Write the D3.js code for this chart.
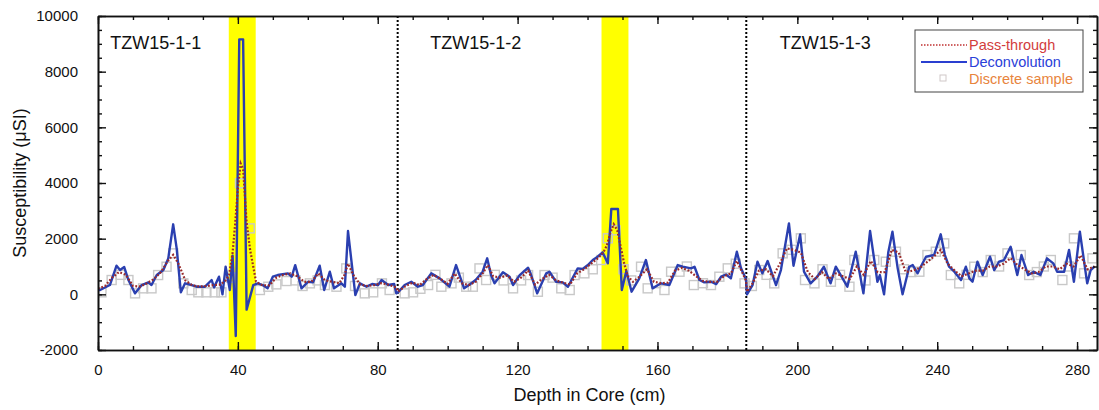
<!DOCTYPE html>
<html>
<head>
<meta charset="utf-8">
<script src="https://cdn.jsdelivr.net/npm/d3@7"></script>
<style>
  body { margin: 0; background: #fff; }
  svg text { font-family: "Liberation Sans", Arial, sans-serif; }
</style>
</head>
<body>
<div id="chart"></div>
<script>
// deconvolution curve (depth cm, susceptibility uSI)
var deconDepth = [0, 0.6, 3.4, 5.3, 6.3, 7.5, 8.7, 10.6, 12.5, 14.4, 15.3, 16.8, 18.7, 20.1, 21.5, 22.5, 23.7, 24.9, 26.8, 28.2,
  30.6, 32.5, 33.2, 34.6, 35.6, 36.5, 37.7, 38.5, 39.4, 40.4, 41.5, 42.5, 44.4, 45.7, 47.1, 48.5, 50, 51.4, 54.3, 55.4,
  56.4, 58.2, 60.1, 61.5, 63.4, 64.7, 66.3, 67.5, 69.6, 70.6, 71.5, 72.5, 73.6, 74.9, 76.8, 78.4, 80.1, 81.1, 83, 84.7,
  85.3, 85.8, 87.7, 89.6, 91.5, 92.9, 95.3, 97.7, 100.5, 102.4, 104.7, 106.1, 108, 110, 111.3, 112.4, 113.4, 115.8, 117.7, 118.7,
  120.6, 123, 123.7, 125.6, 128.2, 129.1, 131, 132.9, 134.4, 137.2, 138.6, 140.1, 141.5, 142.9, 144.3, 145.8, 146.8, 148.7, 149.8, 151.1,
  152.6, 154.8, 156.7, 158.6, 161, 163.4, 165.8, 167.2, 169.6, 170.6, 172, 173.4, 175.3, 176.8, 178.2, 179.6, 181, 182.7, 183.9, 185.3,
  185.6, 187.2, 188.6, 190, 191.5, 193.9, 195.3, 197.6, 198.9, 200.8, 201.9, 203.8, 205.7, 207.6, 209.5, 211, 212.4, 214.3, 216.7, 218.9,
  220.8, 222.9, 223.6, 224.8, 226, 227.2, 228.7, 230.1, 232, 233, 234.4, 235.3, 236.8, 239.1, 241, 242.2, 243.4, 244.9, 246.8, 248.2,
  249.2, 250.1, 251.5, 253, 255.1, 256.3, 257.7, 259.1, 261, 262.9, 264.1, 266, 267.6, 269.5, 271.4, 273.2, 274.3, 276.3, 277.7, 279.1,
  280.8, 282.9, 283.9, 285];
var deconValue = [150, 155, 334, 1028, 873, 981, 514, 35, 334, 430, 334, 693, 873, 1293, 2515, 1653, 72, 395, 334, 274,
  274, 514, 250, 633, 0, 992, 155, 1388, -1500, 9160, 9160, -550, 330, 395, 334, 215, 633, 693, 754, 633,
  1050, 215, 453, 430, 1028, 155, 813, 215, 395, 274, 2274, 1172, -25, 395, 274, 370, 334, 514, 334, 370,
  35, 72, 334, 453, 274, 334, 754, 574, 274, 1053, 215, 334, 514, 813, 1293, 693, 395, 790, 633, 334,
  693, 956, 754, 35, 754, 813, 453, 430, 274, 933, 910, 1053, 1233, 1352, 1508, 1114, 3065, 3065, 155, 837,
  95, 574, 1233, 215, 395, 334, 1053, 993, 933, 992, 514, 430, 453, 370, 633, 713, 574, 1532, 933, 550,
  0, 334, 1172, 754, 1197, 334, 873, 2550, 1028, 2150, 813, 395, 633, 992, 395, 992, 693, 274, 1532, 35,
  2274, 453, 693, 0, 1500, 2250, 933, 0, 992, 1053, 754, 992, 1352, 1412, 2155, 1412, 992, 813, 514, 992,
  574, 453, 1172, 693, 1352, 873, 1172, 1233, 1711, 693, 1412, 693, 813, 693, 1293, 1114, 813, 813, 1592, 453,
  2250, 395, 873, 1000];

// pass-through curve
var passDepth = [0, 2, 4, 6, 8, 10, 12, 14, 16, 18, 20, 21.5, 23, 25, 27, 29, 31, 33, 35, 36.5,
  37.5, 38.5, 39.2, 40, 40.8, 41.5, 42.5, 43.5, 44.4, 45.2, 47, 49, 51, 53, 55, 57, 59, 61, 63, 65,
  67, 69, 70.5, 71.5, 73, 75, 77, 79, 81, 83, 85.3, 85.8, 88, 90, 92, 94, 96, 98, 100, 102,
  104, 106, 108, 110, 111.5, 113, 115, 117, 119, 121, 123, 125, 127, 129, 131, 133, 135, 137, 139, 141,
  143, 144.5, 145.5, 146.5, 147.5, 148.5, 149.5, 150.5, 151.5, 153, 155, 157, 159, 161, 163, 165, 167, 169, 171, 173,
  175, 177, 179, 181, 182.7, 184, 185.3, 185.6, 187, 189, 191, 193, 195, 197, 199, 201, 203, 205, 207, 209,
  211, 213, 215, 217, 219, 221, 223, 225, 227, 229, 231, 233, 235, 237, 239, 241, 243, 245, 247, 249,
  251, 253, 255, 257, 259, 261, 263, 265, 267, 269, 271, 273, 275, 277, 279, 281, 283, 285];
var passValue = [200, 300, 600, 800, 700, 300, 280, 400, 550, 800, 1200, 1420, 1100, 500, 320, 280, 300, 330, 350, 500,
  700, 1500, 2500, 3800, 4700, 4500, 2600, 1600, 1000, 450, 330, 320, 600, 700, 750, 650, 450, 450, 750, 500,
  450, 400, 700, 1100, 700, 350, 300, 330, 400, 350, 250, 100, 300, 420, 330, 550, 700, 550, 380, 750,
  400, 330, 450, 750, 1050, 650, 600, 680, 450, 600, 850, 350, 550, 700, 500, 420, 350, 750, 900, 1100,
  1300, 1500, 1750, 2200, 2520, 2300, 1700, 1100, 650, 450, 650, 900, 450, 400, 420, 850, 950, 850, 650, 480,
  450, 450, 650, 750, 1200, 850, 500, 100, 350, 850, 900, 650, 1100, 1650, 1600, 1500, 800, 550, 800, 550,
  750, 650, 550, 1000, 700, 1200, 800, 800, 1600, 1500, 800, 850, 950, 1150, 1350, 1600, 1100, 850, 650, 750,
  850, 850, 1000, 1000, 1100, 1300, 1050, 900, 750, 800, 1000, 1000, 900, 1100, 1000, 1400, 900, 1000];

// discrete samples
var sampleDepth = [1, 3.9, 6.5, 8.7, 10.6, 12.9, 15.3, 17.2, 19.6, 21.5, 24.4, 26.8, 28.7, 31, 33.4, 35.3, 38, 40.6, 43.4, 46.3,
  48.7, 51, 53.9, 56.5, 58.5, 60.6, 62.8, 64.9, 68.2, 71, 73.5, 76.3, 78.7, 81.2, 83.4, 87.7, 90.1, 92.2, 94.4, 96.5,
  98.2, 101.1, 103.2, 105.3, 107.2, 109.1, 111, 113.5, 116, 118.7, 121, 123, 125.8, 127.7, 130, 132.5, 134.9, 136.3, 139.1, 141.5,
  143.9, 145.8, 148, 150.3, 152.5, 155.3, 157.2, 159.6, 162, 163.9, 166.3, 168.4, 170.4, 173, 175.3, 177.7, 180.1, 182.4, 184.9, 187,
  189.1, 191.2, 193.4, 195.8, 198.3, 201, 202.2, 204.9, 207.2, 209.6, 212.2, 214.9, 216.3, 219.5, 222, 225.3, 228.2, 230.5, 232.6, 234.9,
  237.2, 239.6, 242, 243.9, 246.3, 248.4, 250.6, 253, 255.3, 257.7, 260.1, 263.9, 266.3, 268.5, 270.5, 272.5, 275.8, 277.7, 279.1, 282, 284.4];
var sampleValue = [72, 514, 700, 514, 35, 215, 215, 693, 992, 1472, 395, 155, 72, 72, 72, 72, 600, 3990, 2370, 155,
  274, 358, 478, 500, 300, 394, 500, 334, 274, 932, 300, 35, 72, 394, 155, 35, 72, 200, 334, 700,
  274, 394, 600, 274, 274, 932, 514, 700, 500, 215, 500, 693, 93, 693, 600, 215, 155, 693, 754, 900,
  1233, 2012, 2300, 900, 500, 993, 215, 400, 155, 813, 813, 1000, 334, 400, 334, 633, 933, 1100, 394, 300,
  873, 700, 394, 1472, 1600, 2012, 514, 394, 900, 453, 700, 274, 1233, 500, 1233, 1172, 1532, 900, 800, 813,
  1412, 1532, 1831, 693, 394, 700, 992, 800, 1233, 1000, 1472, 1412, 693, 800, 1000, 1233, 514, 1000, 2012, 754, 1293];

var sectionNames = ["TZW15-1-1", "TZW15-1-2", "TZW15-1-3"];
var sectionLabelDepth = [3.5, 95, 195];
var sectionBreaks = [85.7, 185.4];
var tephraBands = [[37.4, 45.1], [144, 151.7]];

var xTicks = [0, 40, 80, 120, 160, 200, 240, 280];
var yTicks = [-2000, 0, 2000, 4000, 6000, 8000, 10000];

var margin = {top: 16, right: 2, bottom: 60, left: 98},
  width = 1099 - margin.left - margin.right,
  height = 410 - margin.top - margin.bottom;

var x = d3.scaleLinear().domain([0, 285.7]).range([0, width]);
var y = d3.scaleLinear().domain([-2000, 10000]).range([height, 0]);

var svg = d3.select("#chart").append("svg")
  .attr("width", 1099)
  .attr("height", 410);
var chart = svg.append("g")
  .attr("transform", "translate(" + margin.left + "," + margin.top + ")");

chart.append("clipPath").attr("id", "plot-clip")
  .append("rect").attr("width", width).attr("height", height);

var plot = chart.append("g").attr("clip-path", "url(#plot-clip)");

// yellow tephra bands
plot.selectAll(".band")
  .data(tephraBands)
  .enter()
  .append("rect")
  .attr("class", "band")
  .attr("x", function(d) { return x(d[0]); })
  .attr("width", function(d) { return x(d[1]) - x(d[0]); })
  .attr("y", 0)
  .attr("height", height)
  .attr("fill", "#ffff00");

// section breaks
plot.selectAll(".break")
  .data(sectionBreaks)
  .enter()
  .append("line")
  .attr("x1", function(d) { return x(d); })
  .attr("x2", function(d) { return x(d); })
  .attr("y1", 0)
  .attr("y2", height)
  .attr("stroke", "#000")
  .attr("stroke-width", 2)
  .attr("stroke-dasharray", "2,2");

// discrete samples
plot.selectAll(".sample")
  .data(d3.range(sampleDepth.length))
  .enter()
  .append("rect")
  .attr("x", function(i) { return x(sampleDepth[i]) - 4.5; })
  .attr("y", function(i) { return y(sampleValue[i]) - 4.5; })
  .attr("width", 9)
  .attr("height", 9)
  .attr("fill", "none")
  .attr("stroke", "#c8c8c8")
  .attr("stroke-width", 1.4);

var line = d3.line()
  .x(function(d) { return x(d[0]); })
  .y(function(d) { return y(d[1]); });

plot.append("path")
  .datum(d3.zip(deconDepth, deconValue))
  .attr("fill", "none")
  .attr("stroke", "#2a3fb0")
  .attr("stroke-width", 2.4)
  .attr("stroke-linejoin", "round")
  .attr("d", line);

plot.append("path")
  .datum(d3.zip(passDepth, passValue))
  .attr("fill", "none")
  .attr("stroke", "#9a2a2a")
  .attr("stroke-width", 2.2)
  .attr("stroke-dasharray", "1.8,1.8")
  .attr("d", line);

// frame with inward ticks on all sides
function minorTicks(scale, step) {
  var d = scale.domain();
  return d3.range(Math.ceil(d[0] / step) * step, d[1] + 0.001, step);
}
function styleAxis(g) {
  g.select(".domain").attr("stroke-width", 1.6).attr("stroke", "#111");
  g.selectAll(".tick line").attr("stroke-width", 1.4).attr("stroke", "#111");
  g.selectAll("text").attr("font-size", 15).attr("fill", "#111");
}
function plain(d) { return String(d); }

chart.append("g").attr("transform", "translate(0," + height + ")")
  .call(d3.axisBottom(x).tickValues(minorTicks(x, 10)).tickSize(-4).tickFormat("").tickSizeOuter(0))
  .call(styleAxis);
chart.append("g").attr("transform", "translate(0," + height + ")")
  .call(d3.axisBottom(x).tickValues(xTicks).tickSize(-8).tickPadding(14).tickFormat(plain).tickSizeOuter(0))
  .call(styleAxis);
chart.append("g")
  .call(d3.axisTop(x).tickValues(minorTicks(x, 10)).tickSize(-4).tickFormat("").tickSizeOuter(0))
  .call(styleAxis);
chart.append("g")
  .call(d3.axisTop(x).tickValues(xTicks).tickSize(-8).tickFormat("").tickSizeOuter(0))
  .call(styleAxis);

chart.append("g")
  .call(d3.axisLeft(y).tickValues(minorTicks(y, 500)).tickSize(-4).tickFormat("").tickSizeOuter(0))
  .call(styleAxis);
chart.append("g")
  .call(d3.axisLeft(y).tickValues(yTicks).tickSize(-8).tickPadding(20).tickFormat(plain).tickSizeOuter(0))
  .call(styleAxis);
chart.append("g").attr("transform", "translate(" + width + ",0)")
  .call(d3.axisRight(y).tickValues(minorTicks(y, 500)).tickSize(-4).tickFormat("").tickSizeOuter(0))
  .call(styleAxis);
chart.append("g").attr("transform", "translate(" + width + ",0)")
  .call(d3.axisRight(y).tickValues(yTicks).tickSize(-8).tickFormat("").tickSizeOuter(0))
  .call(styleAxis);

// axis titles
svg.append("text")
  .attr("x", margin.left + width / 2 - 8)
  .attr("y", 401)
  .attr("text-anchor", "middle")
  .attr("font-size", 18)
  .attr("fill", "#111")
  .text("Depth in Core (cm)");
svg.append("text")
  .attr("transform", "translate(26," + (margin.top + height / 2) + ") rotate(-90)")
  .attr("text-anchor", "middle")
  .attr("font-size", 18)
  .attr("fill", "#111")
  .text("Susceptibility (\u03bcSI)");

// section names
chart.selectAll(".section")
  .data(sectionNames)
  .enter()
  .append("text")
  .attr("x", function(d, i) { return x(sectionLabelDepth[i]); })
  .attr("y", 33)
  .attr("font-size", 18)
  .attr("fill", "#111")
  .text(function(d) { return d; });

// legend
var legend = svg.append("g").attr("transform", "translate(915,30)");
legend.append("rect")
  .attr("width", 168).attr("height", 62)
  .attr("fill", "#fff").attr("stroke", "#444").attr("stroke-width", 1);
legend.append("line")
  .attr("x1", 6).attr("x2", 52).attr("y1", 15).attr("y2", 15)
  .attr("stroke", "#c03030").attr("stroke-width", 1.5).attr("stroke-dasharray", "1.5,1.5");
legend.append("line")
  .attr("x1", 6).attr("x2", 52).attr("y1", 32).attr("y2", 32)
  .attr("stroke", "#2a3fd0").attr("stroke-width", 2);
legend.append("rect")
  .attr("x", 25).attr("y", 45).attr("width", 6).attr("height", 6)
  .attr("fill", "none").attr("stroke", "#d0c8c8").attr("stroke-width", 1);
var legendText = [["Pass-through", "#d23c3c"], ["Deconvolution", "#2a40d8"], ["Discrete sample", "#e8843c"]];
legend.selectAll(".lt")
  .data(legendText)
  .enter()
  .append("text")
  .attr("x", 54)
  .attr("y", function(d, i) { return 20 + i * 17; })
  .attr("font-size", 14.5)
  .attr("fill", function(d) { return d[1]; })
  .text(function(d) { return d[0]; });
</script>
</body>
</html>
